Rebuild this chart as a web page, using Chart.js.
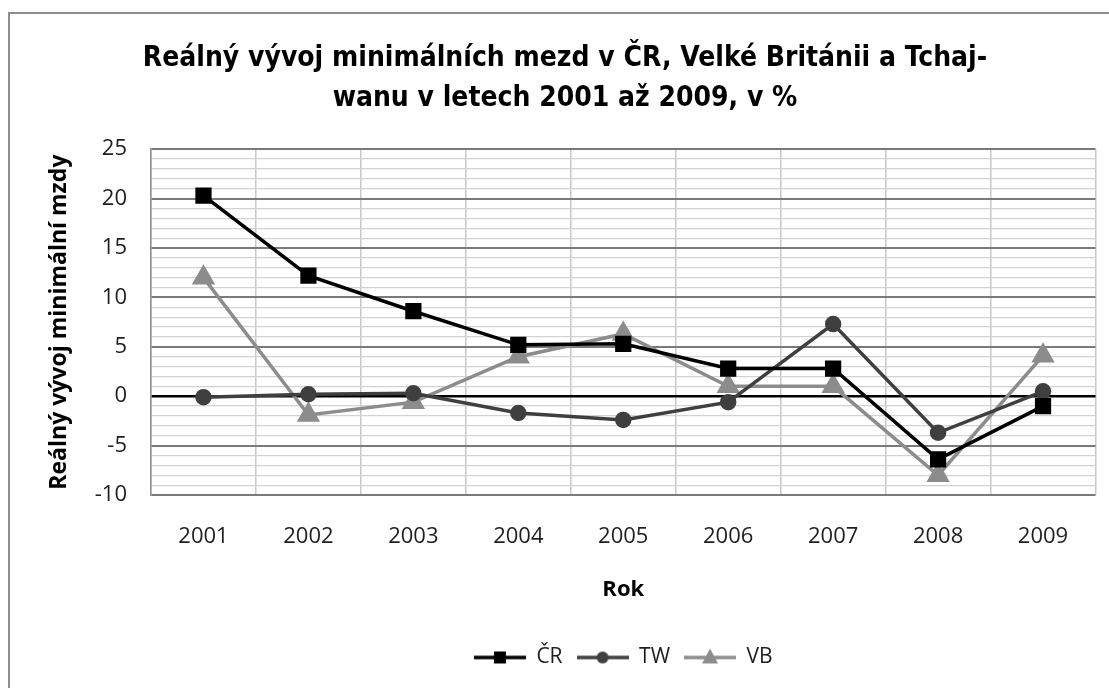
<!DOCTYPE html>
<html>
<head>
<meta charset="utf-8">
<script src="https://cdn.jsdelivr.net/npm/chart.js@4/dist/chart.umd.min.js"></script>
<style>
  body { margin: 0; background: #fff; overflow: hidden; }
  #frame { position: absolute; left: 8px; top: 12px; width: 1200px; height: 800px; border: 2px solid #8e8e8e; }
  #chart { position: absolute; left: 0; top: 0; }
</style>
</head>
<body>
<div id="frame"></div>
<canvas id="chart" width="1109" height="688"></canvas>
<script>
// data
var years = ['2001', '2002', '2003', '2004', '2005', '2006', '2007', '2008', '2009'];
var cr = [20.3, 12.2, 8.6, 5.2, 5.3, 2.8, 2.8, -6.4, -1.0];
var tw = [-0.1, 0.2, 0.3, -1.7, -2.4, -0.6, 7.3, -3.7, 0.5];
var vb = [12.0, -1.9, -0.6, 4.0, 6.3, 1.0, 1.0, -8.0, 4.1];
var seriesNames = ['ČR', 'TW', 'VB'];

var titleLines = ['Reálný vývoj minimálních mezd v ČR, Velké Británii a Tchaj-', 'wanu v letech 2001 až 2009, v %'];
var yTitle = 'Reálný vývoj minimální mzdy';
var xTitle = 'Rok';

var titleFont = "'DejaVu Sans Condensed', 'Open Sans', sans-serif";
var fontFamily = "'Open Sans', sans-serif";
var textColor = '#1e1e1e';

// ikonka do legendy: čára se značkou uprostřed
function legendIcon(color, style) {
    var c = document.createElement('canvas');
    c.width = 52;
    c.height = 20;
    var ctx = c.getContext('2d');
    ctx.strokeStyle = color;
    ctx.fillStyle = color;
    ctx.lineWidth = 3.5;
    ctx.beginPath();
    ctx.moveTo(0, 10);
    ctx.lineTo(52, 10);
    ctx.stroke();
    ctx.beginPath();
    if (style === 'rect') {
        ctx.rect(20, 4, 12, 12);
    } else if (style === 'circle') {
        ctx.arc(26, 10, 6, 0, Math.PI * 2);
    } else {
        ctx.moveTo(26, 1);
        ctx.lineTo(34, 16);
        ctx.lineTo(18, 16);
        ctx.closePath();
    }
    ctx.fill();
    return c;
}

var colors = ['#000000', '#3f3f3f', '#8c8c8c'];
var styles = ['rect', 'circle', 'triangle'];
var radii = [9, 6.5, 10];
var values = [cr, tw, vb];

var datasets = values.map(function (v, i) {
    return {
        label: seriesNames[i],
        data: v,
        borderColor: colors[i],
        backgroundColor: colors[i],
        borderWidth: 3.5,
        pointStyle: styles[i],
        pointRadius: radii[i],
        pointHoverRadius: radii[i],
        pointBackgroundColor: colors[i],
        pointBorderColor: colors[i],
        tension: 0
    };
});

// posun legendy pod střed grafu
var legendShift = {
    id: 'legendShift',
    afterLayout: function (chart) {
        chart.legend.left = chart.chartArea.left;
        chart.legend.right = chart.chartArea.right;
    }
};

new Chart(document.getElementById('chart').getContext('2d'), {
    type: 'line',
    data: { labels: years, datasets: datasets },
    plugins: [legendShift],
    options: {
        responsive: false,
        animation: false,
        layout: { padding: { left: 34, right: 13, top: 12, bottom: 10 } },
        plugins: {
            tooltip: { enabled: false },
            title: {
                display: true,
                text: titleLines,
                color: '#000',
                font: { family: titleFont, size: 28, weight: 'bold', lineHeight: 1.45 },
                padding: { top: 26, bottom: 30 }
            },
            legend: {
                position: 'bottom',
                labels: {
                    usePointStyle: true,
                    pointStyleWidth: 52,
                    padding: 14,
                    color: textColor,
                    font: { family: fontFamily, size: 21 },
                    generateLabels: function (chart) {
                        return chart.data.datasets.map(function (ds, i) {
                            return {
                                text: ds.label,
                                pointStyle: legendIcon(colors[i], styles[i]),
                                fontColor: textColor,
                                datasetIndex: i,
                                lineWidth: 0
                            };
                        });
                    }
                }
            }
        },
        scales: {
            x: {
                offset: true,
                afterFit: function (scale) { scale.height = 138; },
                grid: { offset: true, color: '#c8c8c8', lineWidth: 1.5, drawTicks: false },
                border: { display: false },
                ticks: { color: textColor, padding: 29, font: { family: fontFamily, size: 22 } },
                title: {
                    display: true,
                    text: xTitle,
                    color: '#000',
                    font: { family: fontFamily, size: 22, weight: 'bold' },
                    padding: { top: 0, bottom: 30 }
                }
            },
            y: {
                min: -10,
                max: 25,
                afterFit: function (scale) { scale.width = 117; },
                grid: {
                    drawTicks: false,
                    color: function (c) {
                        var v = c.tick.value;
                        if (v === 0) return '#000000';
                        return v % 5 === 0 ? '#7a7a7a' : '#d2d2d2';
                    },
                    lineWidth: function (c) {
                        var v = c.tick.value;
                        if (v === 0) return 2.5;
                        return v % 5 === 0 ? 2 : 1.2;
                    }
                },
                border: { display: true, color: '#8c8c8c', width: 1.5 },
                ticks: {
                    stepSize: 1,
                    autoSkip: false,
                    color: textColor,
                    padding: 24,
                    font: { family: fontFamily, size: 22 },
                    callback: function (v) { return v % 5 === 0 ? String(v) : ''; }
                },
                title: {
                    display: true,
                    text: yTitle,
                    color: '#000',
                    font: { family: fontFamily, size: 23, weight: 'bold' },
                    padding: { top: 12, bottom: 0 }
                }
            }
        }
    }
});
</script>
</body>
</html>
